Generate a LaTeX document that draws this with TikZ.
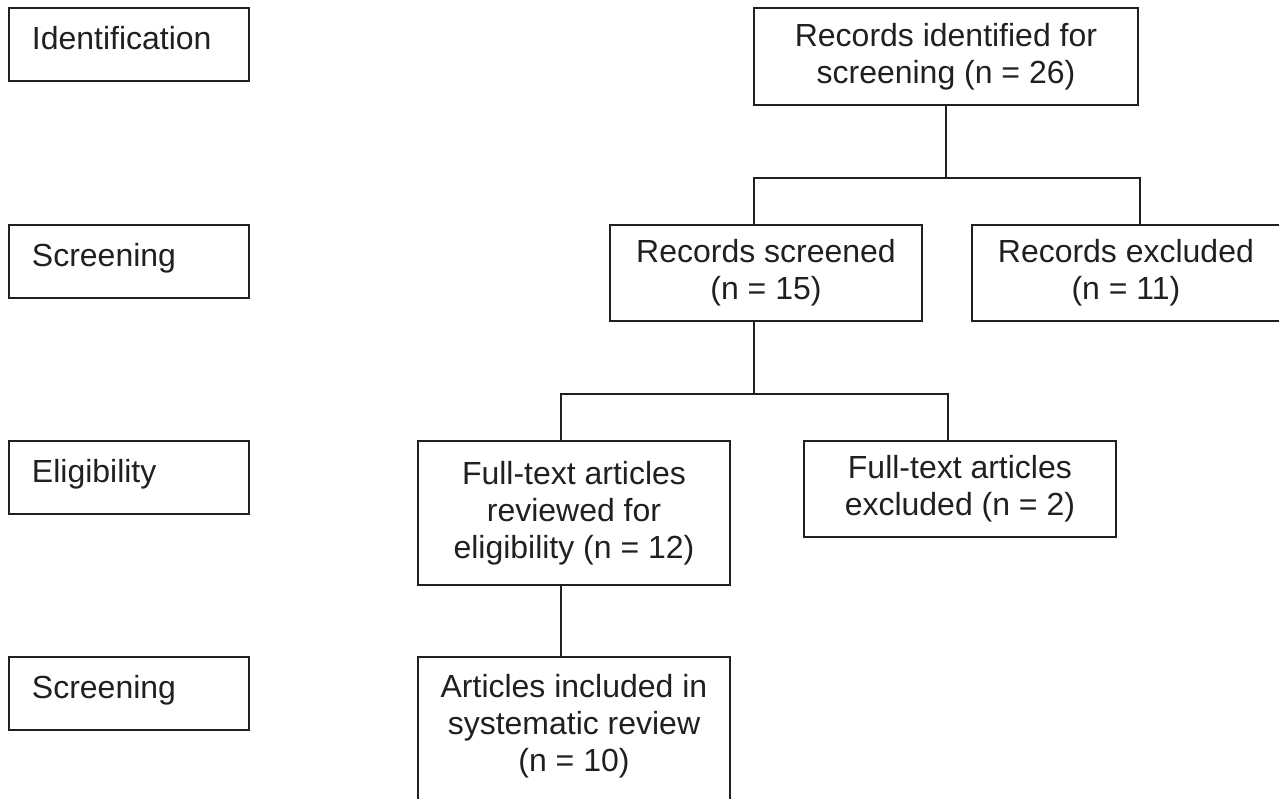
\documentclass[tikz,border=0pt]{standalone}
\usepackage{fontspec}
\setmainfont{Liberation Sans}
\usetikzlibrary{positioning}

\definecolor{ink}{HTML}{231F20}

\tikzset{
    stage/.style={
           rectangle,
           draw=ink, line width=1.1pt,
           anchor=north west,
           minimum width=4.8cm, minimum height=1.46cm,
           text width=3.88cm, inner xsep=0.46cm, inner ysep=0pt,
           align=left,
           text height=0.5cm, text depth=0.3cm,
           text=ink,
           font=\fontsize{18.2}{21}\selectfont,
           },
    box/.style={
           rectangle,
           draw=ink, line width=1.1pt,
           anchor=north west,
           inner sep=0pt,
           align=center,
           text=ink,
           font=\fontsize{18.2}{21}\selectfont,
           },
    link/.style={draw=ink, line width=0.9pt},
}

\begin{document}
\begin{tikzpicture}

       \useasboundingbox (0,0) rectangle (25.58,-15.96);

       % stages on the left
       \node[stage] (IDENT) at (0.16,-0.14) {Identification};
       \node[stage] (SCREENING) at ([yshift=-4.34cm]IDENT.north west) {Screening};
       \node[stage] (ELIGIBILITY) at ([yshift=-4.32cm]SCREENING.north west) {Eligibility};
       \node[stage] (SCREENAGAIN) at ([yshift=-4.32cm]ELIGIBILITY.north west) {Screening};

       % flow
       \node[box, minimum width=7.68cm, minimum height=1.94cm] (RECORDS) at ([xshift=14.9cm]IDENT.north west)
       {Records identified for\\screening (n = 26)};

       \node[box, minimum width=6.24cm, minimum height=1.92cm] (SCREENED) at ([xshift=12.02cm]SCREENING.north west)
       {Records screened\\(n = 15)};

       \node[box, minimum width=6.16cm, minimum height=1.92cm] (EXCLUDED) at ([xshift=0.96cm]SCREENED.north east)
       {Records excluded\\(n = 11)};

       \node[box, minimum width=6.24cm, minimum height=2.88cm] (FULLTEXT) at ([xshift=8.18cm]ELIGIBILITY.north west)
       {Full-text articles\\reviewed for\\eligibility (n = 12)};

       \node[box, minimum width=6.24cm, minimum height=1.92cm] (FTEXCLUDED) at ([xshift=1.44cm]FULLTEXT.north east)
       {Full-text articles\\excluded (n = 2)};

       \node[box, minimum width=6.24cm, minimum height=3.0cm, text depth=0.35cm] (ARTICLES) at ([xshift=8.18cm]SCREENAGAIN.north west)
       {Articles included in\\systematic review\\(n = 10)};

       \coordinate (SPLITA) at ([yshift=-1.44cm]RECORDS.south);
       \coordinate (SPLITB) at ([xshift=-0.24cm,yshift=-1.44cm]SCREENED.south);

       \draw[link] (RECORDS.south) -- (SPLITA) ;
       \draw[link] ([xshift=-0.24cm]SCREENED.north) |- (SPLITA) -| ([xshift=0.28cm]EXCLUDED.north) ;
       \draw[link] ([xshift=-0.24cm]SCREENED.south) -- (SPLITB) ;
       \draw[link] ([xshift=-0.26cm]FULLTEXT.north) |- (SPLITB) -| ([xshift=-0.24cm]FTEXCLUDED.north) ;
       \draw[link] ([xshift=-0.26cm]FULLTEXT.south) -- ([xshift=-0.26cm]ARTICLES.north) ;

\end{tikzpicture}
\end{document}
